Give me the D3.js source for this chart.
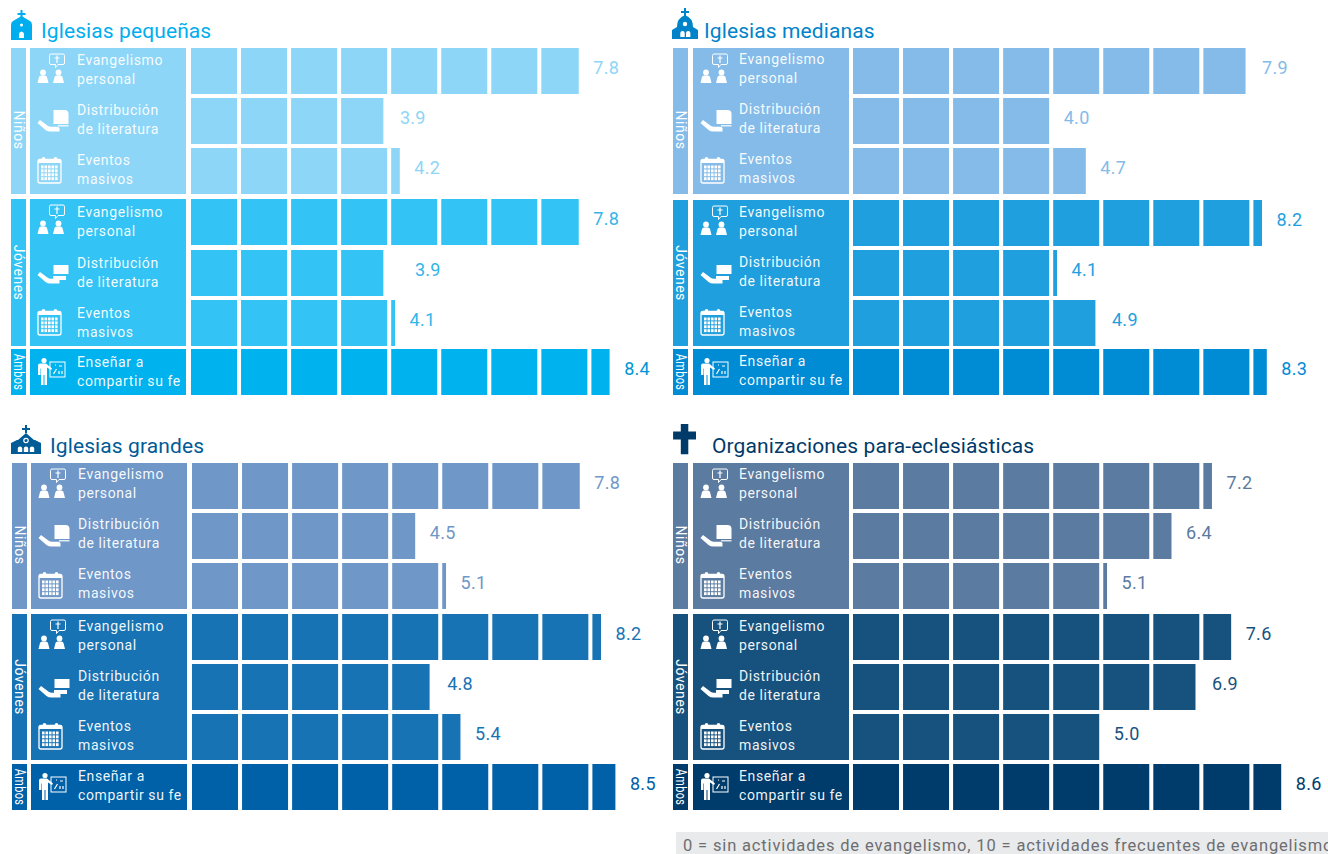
<!DOCTYPE html>
<html lang="en">
<head>
<meta charset="UTF-8">
<title>Actividades de evangelismo</title>
<script src="https://d3js.org/d3.v7.min.js"></script>
<style>
  html, body { margin: 0; padding: 0; background: #fff; overflow: hidden; }
  svg { display: block; }
  text { font-family: Roboto, sans-serif; }
  .title { font-size: 21px; letter-spacing: 0.1px; }
  .activity { font-size: 14px; fill: #fff; letter-spacing: 0.6px; fill-opacity: .95; }
  .group { font-size: 14px; fill: #fff; letter-spacing: 0.5px; }
  .value { font-size: 18px; letter-spacing: 0.3px; }
  .note { font-size: 16.5px; fill: #6d6e71; letter-spacing: 0.85px; }
</style>
</head>
<body>
<div id="chart"></div>
<script>
// Values, one array per panel, same order as rowLabels
const rowLabels = [
  ["Evangelismo", "personal"], ["Distribución", "de literatura"], ["Eventos", "masivos"],
  ["Evangelismo", "personal"], ["Distribución", "de literatura"], ["Eventos", "masivos"],
  ["Enseñar a", "compartir su fe"]
];
const rowIcons = ["talk", "paper", "calendar", "talk", "papers", "calendar", "teacher"];
const groupNames = ["Niños", "Jóvenes", "Ambos"];
const groupRows = [[0, 2], [3, 5], [6, 6]];

const panelTitles = ["Iglesias pequeñas", "Iglesias medianas", "Iglesias grandes", "Organizaciones para-eclesiásticas"];
const pequenas = [7.8, 3.9, 4.2, 7.8, 3.9, 4.1, 8.4];
const medianas = [7.9, 4.0, 4.7, 8.2, 4.1, 4.9, 8.3];
const grandes = [7.8, 4.5, 5.1, 8.2, 4.8, 5.4, 8.5];
const organizaciones = [7.2, 6.4, 5.1, 7.6, 6.9, 5.0, 8.6];
const noteText = "0 = sin actividades de evangelismo, 10 = actividades frecuentes de evangelismo";

const width = 1328, height = 854;
const svg = d3.select("#chart").append("svg").attr("width", width).attr("height", height);

// layout of each panel
const panels = [
  { values: pequenas, icon: "chapel", sideX: 11, sideW: 15, blockX: 30, blockW: 156, barX: 191, labelX: 77, labelDy: 17, titleX: 41, titleY: 38,
    iconX: 21.5, iconY: 10, titleColor: "#00aeef", colors: ["#8dd6f7", "#33c3f4", "#00b3ef"],
    valueColors: ["#8dd6f7", "#33b5e8", "#0096d6"], nudge: { 1: 2, 4: 17 }, rowYs: [48, 98, 148, 199, 250, 300, 349] },
  { values: medianas, icon: "church", sideX: 673, sideW: 15, blockX: 693, blockW: 156, barX: 853, labelX: 739, labelDy: 16, titleX: 704, titleY: 38,
    iconX: 685, iconY: 8, titleColor: "#0083c9", colors: ["#84bbe8", "#1f9fdd", "#008bd5"],
    valueColors: ["#84bbe8", "#1f9fdd", "#008bd5"], nudge: { 0: 2, 5: 2 }, rowYs: [48, 98, 148, 200, 250, 300, 349] },
  { values: grandes, icon: "cathedral", sideX: 12, sideW: 15, blockX: 31, blockW: 156, barX: 192, labelX: 78, labelDy: 16, titleX: 50, titleY: 453,
    iconX: 26, iconY: 425, titleColor: "#005b97", colors: ["#6f97c8", "#1873b4", "#0061a8"],
    valueColors: ["#6f97c8", "#1873b4", "#0061a8"], nudge: { 4: 3 }, rowYs: [463, 513, 563, 614, 664, 714, 764] },
  { values: organizaciones, icon: "cross", sideX: 673, sideW: 15, blockX: 693, blockW: 156, barX: 853, labelX: 739, labelDy: 16, titleX: 712, titleY: 453,
    iconX: 684.5, iconY: 424, titleColor: "#003a68", colors: ["#5c7ba0", "#17527e", "#003c6b"],
    valueColors: ["#5c7ba0", "#17527e", "#003c6b"], nudge: { 4: 2 }, rowYs: [463, 513, 563, 614, 664, 714, 764] }
];

const rowH = 46, cellW = 46;
const x = d3.scaleLinear().domain([0, 10]).range([0, 500.5]);
// width of the last, cut square for the fraction of a unit it stands for
const part = d3.scaleLinear().domain([0, 1]).range([-1, 47]);

// white pictograms, drawn around the origin of their group
const icons = {
  talk(g) {
    g.append("path").attr("d", "M0 -17h12a1.500 1.500 0 0 1 1.500 1.500v7.500a1.500 1.500 0 0 1 -1.500 1.500h-5l-2.500 3v-3h-4.500a1.500 1.500 0 0 1 -1.500 -1.500v-7.500a1.500 1.500 0 0 1 1.500 -1.500z")
      .attr("fill", "none").attr("stroke", "#fff").attr("stroke-width", 1);
    g.append("path").attr("d", "M6 -15.500v7.500M3.500 -13h5").attr("stroke", "#fff").attr("stroke-width", 1.2);
    [-8, 7.5].forEach(dx => {
      g.append("circle").attr("cx", dx).attr("cy", 1.5).attr("r", 2.9).attr("fill", "#fff");
      g.append("path").attr("d", `M${dx - 5.5} 12l1.500 -6q.5 -1.500 2 -1.500h4q1.500 0 2 1.500l1.500 6z`).attr("fill", "#fff");
    });
  },
  hand(g) {
    g.append("path").attr("d", "M-13.500 2l2.500 -3l8 6q1 .8 3 .8h7l1.500 1.200v3.500h-9q-3 0 -5 -1.500z").attr("fill", "#fff");
    g.append("path").attr("d", "M-4.500 4.500l3.500 3h7").attr("stroke", "#fff").attr("stroke-opacity", .5).attr("fill", "none").attr("stroke-width", 1);
  },
  paper(g) {
    icons.hand(g);
    g.append("path").attr("d", "M2.500 -11h11q4 0 4 4v10h-15z").attr("fill", "#fff");
    g.append("rect").attr("x", 7).attr("y", 4.2).attr("width", 10.5).attr("height", 1.2).attr("fill", "#fff");
  },
  papers(g) {
    icons.hand(g);
    g.append("rect").attr("x", 2.5).attr("y", -8).attr("width", 15).attr("height", 9).attr("fill", "#fff");
    g.append("rect").attr("x", 2).attr("y", 3).attr("width", 13).attr("height", 4).attr("fill", "#fff");
  },
  calendar(g) {
    g.append("rect").attr("x", -13).attr("y", -11.5).attr("width", 23).attr("height", 23.5).attr("rx", 2)
      .attr("fill", "none").attr("stroke", "#fff").attr("stroke-width", 1.3);
    g.append("rect").attr("x", -13).attr("y", -11.5).attr("width", 23).attr("height", 3.5).attr("fill", "#fff");
    [-7.5, 4.5].forEach(dx => g.append("rect").attr("x", dx - 1.75).attr("y", -14).attr("width", 3.5).attr("height", 6).attr("rx", 1.75).attr("fill", "#fff"));
    d3.range(5).forEach(c => d3.range(4).forEach(r => g.append("rect")
      .attr("x", -10 + c * 3.5).attr("y", -5.5 + r * 3.9).attr("width", 2.6).attr("height", 2.9).attr("fill", "#fff")));
  },
  teacher(g) {
    g.append("circle").attr("cx", -7).attr("cy", -11.5).attr("r", 2.6).attr("fill", "#fff");
    g.append("path").attr("d", "M-13 -6.500q0 -2 2 -2h6l6 5l-1 1.500l-4 -2.500v6v11.500h-2.500v-10h-1v10h-2.500v-11.500v-5h-.5v6.500h-2.500z").attr("fill", "#fff");
    g.append("rect").attr("x", -1).attr("y", -10).attr("width", 15).attr("height", 15)
      .attr("fill", "none").attr("stroke", "#fff").attr("stroke-width", 1);
    g.append("path").attr("d", "M2.500 2l3 -5M8 2v-3M11 2v-3M8 -6h3M4 -7h1").attr("stroke", "#fff").attr("stroke-width", 1.2).attr("fill", "none");
  }
};

// church pictograms next to the titles
const smallCross = "M-1 0h2v3h3v2h-3v3h-2v-3h-3v-2h3z";
const titleIcons = {
  chapel(g, c) {
    g.append("path").attr("d", smallCross).attr("fill", c);
    g.append("path").attr("d", "M-10.500 30v-15q0 -3 2 -4l8.500 -5l8.500 5q2 1 2 4v15z").attr("fill", c);
    g.append("path").attr("d", "M-2.500 28v-4q0 -2 2.500 -2.500q2.500 .5 2.500 2.500v4z").attr("fill", "#fff");
    g.append("circle").attr("cx", 0).attr("cy", 15).attr("r", 1.5).attr("fill", "#fff");
  },
  church(g, c) {
    g.append("path").attr("d", smallCross).attr("fill", c);
    g.append("path").attr("d", "M-13 31v-9l5 -3q0 -9 8 -12q8 3 8 12l5 3v9z").attr("fill", c);
    g.append("circle").attr("cx", 0).attr("cy", 16).attr("r", 2.2).attr("fill", "#fff");
    [-2.5, 3.2].forEach(dx => g.append("path").attr("d", `M${dx - 2.2} 29v-4q0 -2 2.200 -2t2.200 2v4z`).attr("fill", "#fff"));
  },
  cathedral(g, c) {
    g.append("path").attr("d", smallCross).attr("fill", c);
    g.append("path").attr("d", "M-15 29v-11l6 -3h1l8 -7l8 7h1l6 3v11z").attr("fill", c);
    g.append("circle").attr("cx", 0).attr("cy", 15.5).attr("r", 2.2).attr("fill", "none").attr("stroke", "#fff").attr("stroke-width", 1.2);
    [-6, 0, 6].forEach(dx => g.append("path").attr("d", `M${dx - 2.2} 27v-3.500q0 -2 2.200 -2t2.200 2v3.500z`).attr("fill", "#fff"));
  },
  cross(g, c) {
    g.append("path").attr("d", "M-3.700 0h7.500v7.500h7.700v8h-7.700v14.800h-7.500v-14.800h-7.700v-8h7.700z").attr("fill", c);
  }
};

panels.forEach((p, pi) => {
  const g = svg.append("g");

  titleIcons[p.icon](g.append("g").attr("transform", `translate(${p.iconX},${p.iconY})`), p.titleColor);
  g.append("text").attr("class", "title").attr("x", p.titleX).attr("y", p.titleY)
    .attr("fill", p.titleColor).text(panelTitles[pi]);

  // side bands and the label blocks, one per group
  groupRows.forEach(([a, b], i) => {
    const y0 = p.rowYs[a], y1 = p.rowYs[b] + rowH;
    g.append("rect").attr("x", p.sideX).attr("y", y0).attr("width", p.sideW).attr("height", y1 - y0).attr("fill", p.colors[i]);
    g.append("rect").attr("x", p.blockX).attr("y", y0).attr("width", p.blockW).attr("height", y1 - y0).attr("fill", p.colors[i]);
    // "Niños" sits a little below the middle of its band, "Ambos" is squeezed to fit
    const cx = p.sideX + p.sideW / 2, cy = (y0 + y1) / 2 + (i === 0 ? 9 : 0);
    g.append("text").attr("class", "group")
      .attr("transform", `translate(${cx},${cy}) rotate(90)` + (i === 2 ? " scale(0.78,1)" : ""))
      .attr("text-anchor", "middle").attr("dy", "0.35em")
      .text(groupNames[i]);
  });

  p.values.forEach((v, r) => {
    const y = p.rowYs[r];
    const group = groupRows.findIndex(([a, b]) => r >= a && r <= b);
    const fill = p.colors[group];

    // one square per whole unit, the last one cut to the fraction
    const cells = d3.range(Math.ceil(v)).map(i => ({ i, w: v - i >= 1 ? cellW : part(v - i) }));
    g.append("g").selectAll("rect").data(cells).join("rect")
      .attr("x", d => p.barX + x(d.i)).attr("y", y)
      .attr("width", d => d.w).attr("height", rowH).attr("fill", fill);

    const last = cells[cells.length - 1];
    const end = p.barX + x(last.i) + last.w;
    g.append("text").attr("class", "value")
      .attr("x", end + 27.5 + (p.nudge[r] || 0)).attr("y", y + 20).attr("dy", "0.35em").attr("text-anchor", "middle")
      .attr("fill", p.valueColors[group]).text(v.toFixed(1));

    rowLabels[r].forEach((line, l) => {
      g.append("text").attr("class", "activity").attr("x", p.labelX)
        .attr("y", y + p.labelDy + (r >= 3 ? 1 : 0) + l * 19).text(line);
    });
    icons[rowIcons[r]](g.append("g").attr("transform", `translate(${p.blockX + 21},${y + 23})`));
  });
});

// note box, runs off the right edge in the original
svg.append("rect").attr("x", 676).attr("y", 832).attr("width", 652).attr("height", 22).attr("fill", "#e9eaeb");
svg.append("text").attr("class", "note").attr("x", 683).attr("y", 851).text(noteText);
</script>
</body>
</html>
